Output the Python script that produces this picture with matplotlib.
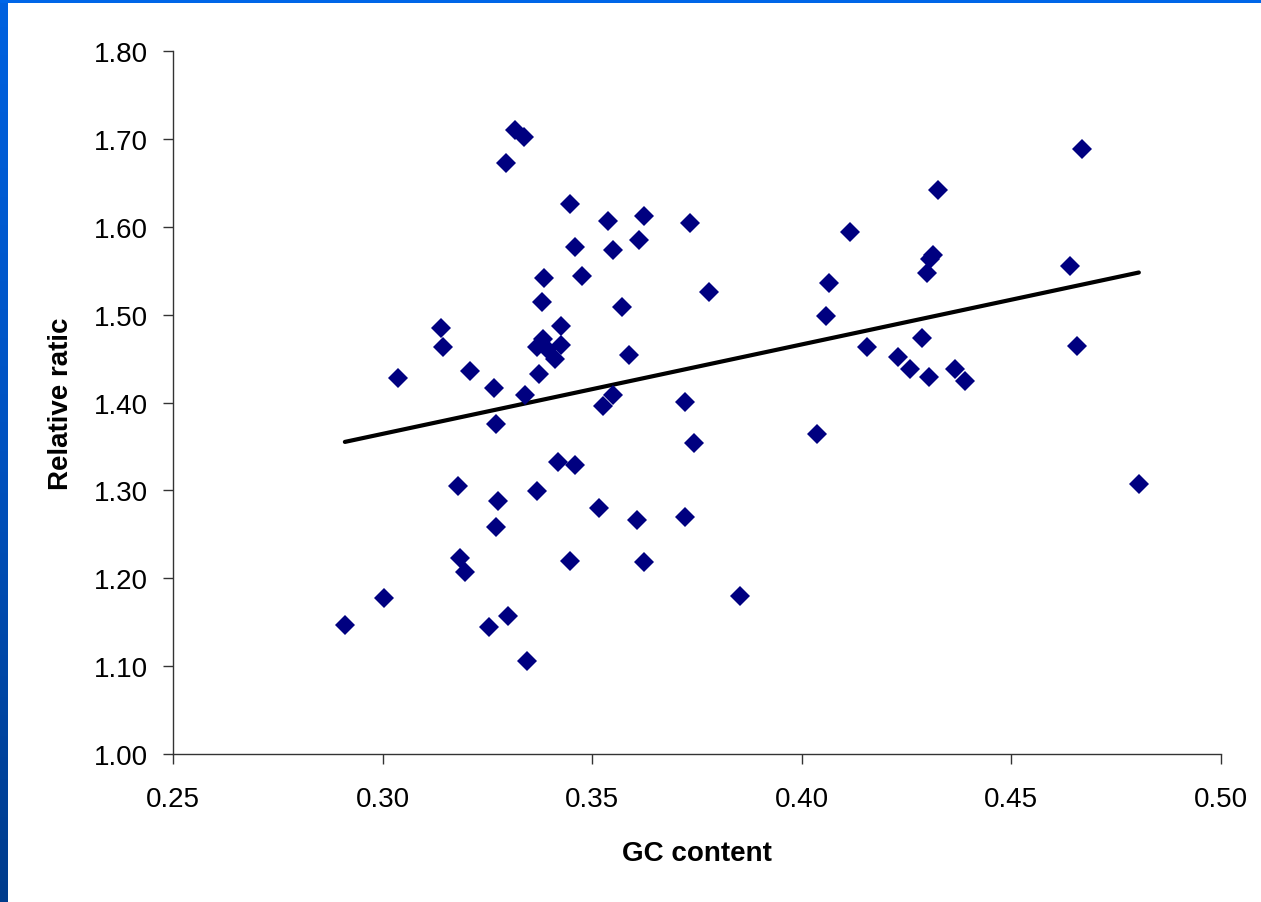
import numpy as np
import matplotlib
matplotlib.use("Agg")
import matplotlib.pyplot as plt
from matplotlib.patches import Rectangle
from matplotlib.colors import LinearSegmentedColormap

# ---- data ----
gc_content = [
    0.2910, 0.3003, 0.3037, 0.3139, 0.3144, 0.3180, 0.3185, 0.3197, 0.3208, 0.3254,
    0.3266, 0.3271, 0.3271, 0.3275, 0.3294, 0.3299, 0.3316, 0.3337, 0.3340, 0.3344,
    0.3368, 0.3368, 0.3373, 0.3380, 0.3385, 0.3383, 0.3392, 0.3411, 0.3426, 0.3426,
    0.3418, 0.3447, 0.3447, 0.3459, 0.3459, 0.3476, 0.3516, 0.3526, 0.3550, 0.3538,
    0.3550, 0.3571, 0.3588, 0.3607, 0.3612, 0.3624, 0.3624, 0.3721, 0.3721, 0.3733,
    0.3743, 0.3779, 0.3853, 0.4036, 0.4058, 0.4065, 0.4115, 0.4156, 0.4229, 0.4258,
    0.4287, 0.4299, 0.4306, 0.4313, 0.4303, 0.4325, 0.4365, 0.4389, 0.4640, 0.4657,
    0.4668, 0.4804,
]
relative_ratio = [
    1.147, 1.177, 1.428, 1.485, 1.463, 1.305, 1.223, 1.207, 1.436, 1.144,
    1.417, 1.376, 1.258, 1.288, 1.673, 1.157, 1.710, 1.702, 1.409, 1.106,
    1.299, 1.463, 1.433, 1.514, 1.542, 1.472, 1.461, 1.450, 1.487, 1.466,
    1.332, 1.626, 1.220, 1.577, 1.329, 1.544, 1.280, 1.396, 1.408, 1.607,
    1.574, 1.509, 1.454, 1.266, 1.585, 1.612, 1.218, 1.401, 1.270, 1.604,
    1.354, 1.526, 1.180, 1.364, 1.499, 1.536, 1.594, 1.463, 1.452, 1.438,
    1.473, 1.547, 1.563, 1.568, 1.429, 1.642, 1.438, 1.425, 1.555, 1.464,
    1.689, 1.307,
]
x_ticks = [0.25, 0.30, 0.35, 0.40, 0.45, 0.50]
y_ticks = [1.00, 1.10, 1.20, 1.30, 1.40, 1.50, 1.60, 1.70, 1.80]
x_label = "GC content"
y_label = "Relative ratic"

x = np.array(gc_content)
y = np.array(relative_ratio)

plt.rcParams['font.family'] = ['Liberation Sans', 'DejaVu Sans']

fig = plt.figure(figsize=(12.61, 9.03), dpi=100)
fig.patch.set_facecolor('white')

# Blue frame: left gradient bar and top bar
bar_ax = fig.add_axes([0, 0, 8 / 1261, 1])
grad = np.linspace(0, 1, 256).reshape(-1, 1)
cmap = LinearSegmentedColormap.from_list("bar", ["#003C8C", "#0052C0", "#0062E0"])
bar_ax.imshow(grad, aspect='auto', cmap=cmap, origin='lower', extent=[0, 1, 0, 1])
bar_ax.set_axis_off()
fig.patches.append(Rectangle((0, 1 - 4 / 903), 1, 4 / 903, transform=fig.transFigure,
                             facecolor='#0066E8', edgecolor='none', zorder=5))

ax = fig.add_axes([173 / 1261, 1 - 755 / 903, (1221 - 173) / 1261, (755 - 52) / 903])

coef = np.polyfit(x, y, 1)
xl = np.array([x.min(), x.max()])
ax.plot(xl, np.polyval(coef, xl), color='black', lw=3, solid_capstyle='round', zorder=2)

ax.plot(x, y, linestyle='none', marker='D', markersize=10.5, color='#000080',
        markeredgecolor='#000080', markeredgewidth=0, zorder=3, clip_on=False)

ax.set_xlim(0.25, 0.50)
ax.set_ylim(1.00, 1.80)
ax.set_xticks(x_ticks)
ax.set_yticks(y_ticks)
ax.set_xticklabels([f"{v:.2f}" for v in x_ticks])
ax.set_yticklabels([f"{v:.2f}" for v in y_ticks])

for s in ['top', 'right']:
    ax.spines[s].set_visible(False)
for s in ['left', 'bottom']:
    ax.spines[s].set_color('#333333')
    ax.spines[s].set_linewidth(1.0)

ax.tick_params(axis='both', direction='out', length=7, width=1.0, color='#333333',
               labelsize=20, labelcolor='black')
ax.tick_params(axis='y', pad=11)
ax.tick_params(axis='x', pad=16)

ax.set_xlabel(x_label, fontsize=20, fontweight='bold', labelpad=20)
ax.set_ylabel(y_label, fontsize=20, fontweight='bold', labelpad=14)

fig.savefig("out.png", dpi=100, facecolor='white')
